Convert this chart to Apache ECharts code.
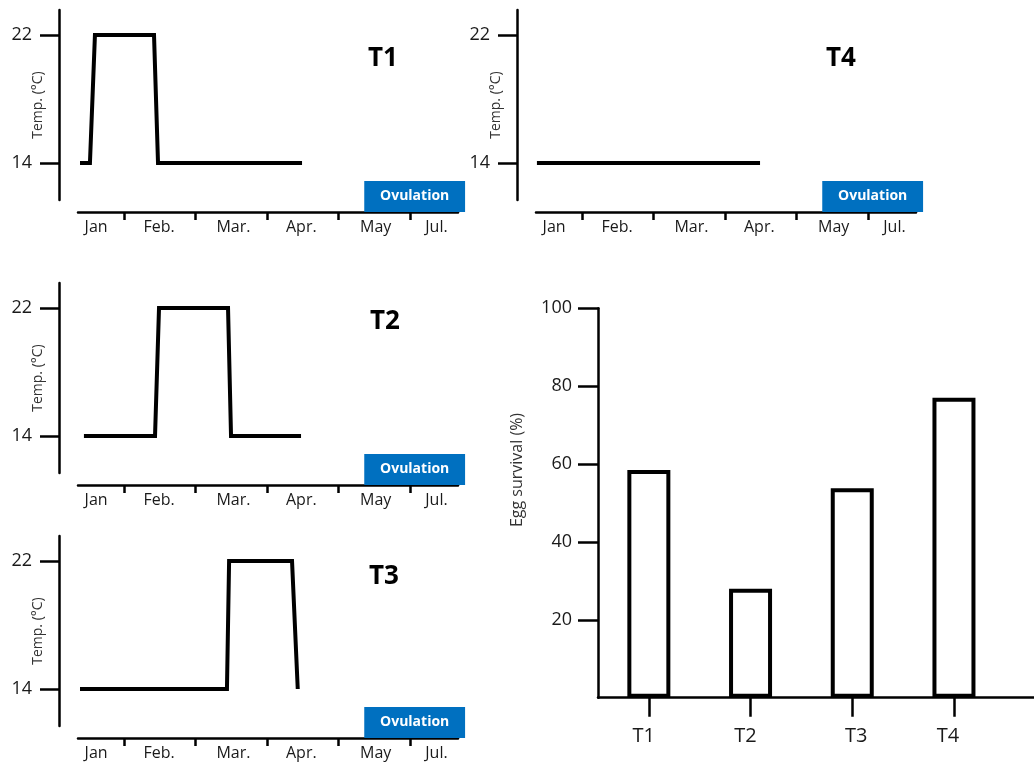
<!DOCTYPE html>
<html>
<head>
<meta charset="utf-8">
<script src="https://cdn.jsdelivr.net/npm/echarts@6/dist/echarts.min.js"></script>
<style>html,body{margin:0;padding:0;background:#fff}#c{width:1034px;height:762px}</style>
</head>
<body>
<div id="c"></div>
<script>
// ---- data ----
const months = ['Jan', 'Feb.', 'Mar.', 'Apr.', 'May', 'Jul.'];
const monthLabelAt = [0.61, 1.49, 2.53, 3.48, 4.52, 5.37];
const monthTicks = [1, 2, 3, 4, 5];
const tempTicks = [14, 22];
const t1Temp = [[0.385, 14], [0.524, 14], [0.594, 22], [1.42, 22], [1.476, 14], [3.49, 14]];
const t2Temp = [[0.44, 14], [1.434, 14], [1.49, 22], [2.455, 22], [2.497, 14], [3.476, 14]];
const t3Temp = [[0.385, 14], [2.44, 14], [2.47, 22], [3.35, 22], [3.43, 14]];
const t4Temp = [[0.37, 14], [3.49, 14]];
const ovulationSpan = [4.36, 5.77];
const treatments = ['T1', 'T2', 'T3', 'T4'];
const treatmentAt = [0.5, 1.5, 2.5, 3.5];
const treatmentLabelAt = [0.45, 1.45, 2.54, 3.44];
const eggSurvival = [58.5, 28, 53.8, 77];
const survivalTicks = [20, 40, 60, 80, 100];

// ---- layout ----
const FONT = '"Open Sans", "DejaVu Sans", sans-serif';
const INK = '#1a1a1a';
const panels = [
  { name: 'T1', data: t1Temp, dx: 0, dy: 0, tx: 383, ty: 59 },
  { name: 'T2', data: t2Temp, dx: 0, dy: 273, tx: 385, ty: 322 },
  { name: 'T3', data: t3Temp, dx: 0, dy: 526, tx: 384, ty: 577 },
  { name: 'T4', data: t4Temp, dx: 458, dy: 0, tx: 841, ty: 59 }
];
const xMin = 0.357, xMax = 5.671;
const yMinP = 10.9375, yMaxP = 23.5625, yMinQ = 11.6875;
const boxTop = 12.875;

const grid = [], xAxis = [], yAxis = [], series = [], graphic = [];
const axisLineStyle = { color: '#000', width: 2.5 };
const nearest = (arr, v) => {
  let best = 0;
  arr.forEach((m, k) => { if (Math.abs(m - v) < Math.abs(arr[best] - v)) best = k; });
  return best;
};

panels.forEach((p) => {
  const gP = grid.length;
  grid.push({ left: 78 + p.dx, top: 10 + p.dy, width: 380, height: 202, outerBoundsMode: 'none', containLabel: false });
  const gQ = grid.length;
  grid.push({ left: 59 + p.dx, top: 10 + p.dy, width: 10, height: 190, outerBoundsMode: 'none', containLabel: false });

  const xP = xAxis.length;
  xAxis.push({
    type: 'value', gridIndex: gP, min: xMin, max: xMax,
    axisLine: { show: true, onZero: false, lineStyle: axisLineStyle },
    axisTick: { show: true, inside: false, length: 8, customValues: monthTicks, lineStyle: axisLineStyle },
    axisLabel: {
      show: true, customValues: monthLabelAt, margin: 7, color: INK, fontSize: 16, fontFamily: FONT,
      formatter: v => months[nearest(monthLabelAt, v)]
    },
    splitLine: { show: false }
  });
  const yP = yAxis.length;
  yAxis.push({ type: 'value', gridIndex: gP, min: yMinP, max: yMaxP, show: false, splitLine: { show: false } });

  xAxis.push({ type: 'value', gridIndex: gQ, show: false, splitLine: { show: false } });
  yAxis.push({
    type: 'value', gridIndex: gQ, min: yMinQ, max: yMaxP,
    name: 'Temp. (°C)', nameLocation: 'middle', nameGap: 14, nameMoveOverlap: false,
    nameTextStyle: { fontSize: 14, color: '#333', fontFamily: FONT },
    axisLine: { show: true, onZero: false, lineStyle: axisLineStyle },
    axisTick: { show: true, inside: false, length: 19, customValues: tempTicks, lineStyle: axisLineStyle },
    axisLabel: { show: true, customValues: tempTicks, margin: 27, color: INK, fontSize: 18, fontFamily: FONT },
    splitLine: { show: false }
  });

  series.push({
    type: 'line', xAxisIndex: xP, yAxisIndex: yP, data: p.data,
    showSymbol: false, symbol: 'none', silent: true,
    lineStyle: { color: '#000', width: 4, join: 'miter' }
  });
  series.push({
    type: 'custom', xAxisIndex: xP, yAxisIndex: yP, clip: false, silent: true, z: 5,
    data: [ovulationSpan],
    encode: { x: [0, 1] },
    renderItem: (params, api) => {
      const a = api.coord([api.value(0), boxTop]);
      const b = api.coord([api.value(1), yMinP]);
      return {
        type: 'group', children: [
          { type: 'rect', shape: { x: a[0], y: a[1], width: b[0] - a[0], height: b[1] - a[1] }, style: { fill: '#0070C0' } },
          { type: 'text', style: { text: 'Ovulation', x: (a[0] + b[0]) / 2, y: (a[1] + b[1]) / 2, fill: '#fff', font: 'bold 14px ' + FONT, align: 'center', verticalAlign: 'middle' } }
        ]
      };
    }
  });

  graphic.push({ type: 'text', x: p.tx, y: p.ty, style: { text: p.name, font: 'bold 26px ' + FONT, fill: '#000', align: 'center', verticalAlign: 'middle' } });
});

// bar chart
const gB = grid.length;
grid.push({ left: 598, top: 308.3, width: 436, height: 389.4, outerBoundsMode: 'none', containLabel: false });
const xB = xAxis.length;
xAxis.push({
  type: 'value', gridIndex: gB, min: 0, max: 4.287,
  axisLine: { show: true, onZero: false, lineStyle: { color: '#000', width: 2.5 } },
  axisTick: { show: true, inside: false, length: 19, customValues: treatmentAt, lineStyle: { color: '#000', width: 2.5 } },
  axisLabel: {
    show: true, customValues: treatmentLabelAt, margin: 29, color: INK, fontSize: 20, fontFamily: FONT,
    formatter: v => treatments[nearest(treatmentLabelAt, v)]
  },
  splitLine: { show: false }
});
const yB = yAxis.length;
yAxis.push({
  type: 'value', gridIndex: gB, min: 0, max: 100,
  axisLine: { show: true, onZero: false, lineStyle: { color: '#000', width: 2.5 } },
  axisTick: { show: true, inside: false, length: 20, customValues: survivalTicks, lineStyle: { color: '#000', width: 2.5 } },
  axisLabel: { show: true, customValues: survivalTicks, margin: 26, color: INK, fontSize: 18, fontFamily: FONT },
  splitLine: { show: false }
});
series.push({
  type: 'bar', xAxisIndex: xB, yAxisIndex: yB, silent: true,
  data: eggSurvival.map((v, i) => [treatmentAt[i], v]),
  barWidth: 43,
  itemStyle: { color: '#fff', borderColor: '#000', borderWidth: 4 }
});
graphic.push({ type: 'text', x: 517.5, y: 470, rotation: Math.PI / 2, style: { text: 'Egg survival (%)', font: '16px ' + FONT, fill: '#333', align: 'center', verticalAlign: 'middle' } });

const chart = echarts.init(document.getElementById('c'), null, { renderer: 'canvas' });
chart.setOption({ animation: false, backgroundColor: '#fff', grid, xAxis, yAxis, series, graphic });
</script>
</body>
</html>
